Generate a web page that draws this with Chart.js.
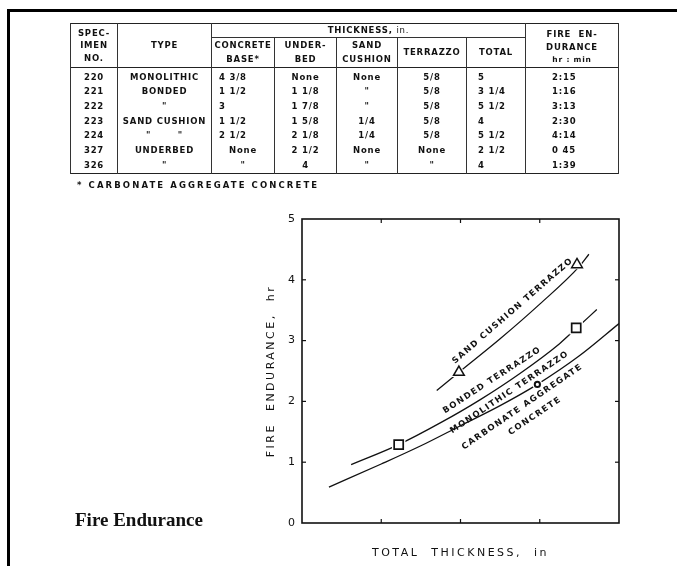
<!DOCTYPE html>
<html><head><meta charset="utf-8">
<script src="https://cdn.jsdelivr.net/npm/chart.js@4.4.1/dist/chart.umd.min.js"></script>
<style>
html,body{margin:0;padding:0;background:#fff;}
body{width:677px;height:566px;overflow:hidden;position:relative;font-family:'DejaVu Sans',sans-serif;color:#111;}
#frame{position:absolute;left:7px;top:9px;width:700px;height:600px;border-top:3px solid #000;border-left:3px solid #000;}
#chart{position:absolute;left:0;top:0;}
#tbl{position:absolute;left:70px;top:23px;width:548px;border-collapse:collapse;table-layout:fixed;font-size:8.5px;letter-spacing:0.8px;border:1.5px solid #222;}
#tbl td,#tbl th{padding:0;border-left:1px solid #333;border-right:1px solid #333;text-align:center;white-space:nowrap;overflow:hidden;font-weight:bold;vertical-align:middle;}
#tbl thead th{line-height:12.5px;}
#tbl thead tr.r1 th{height:11px;}
#tbl thead tr.r2 th{height:29px;border-top:1px solid #333;}
#tbl thead{border-bottom:1.5px solid #222;}
#tbl tbody td{height:14.7px;line-height:14.7px;}
#tbl tbody tr:first-child td{padding-top:2px;}
#tbl tbody tr:last-child td{padding-bottom:1px;}
#tbl td.l{text-align:left;}
.sm{font-size:7.5px;}
#foot{position:absolute;left:77px;top:180px;font-weight:bold;font-size:8.5px;letter-spacing:2.1px;white-space:nowrap;}
#title{position:absolute;left:75px;top:511px;font-family:'Liberation Serif',serif;font-weight:bold;font-size:19px;line-height:18px;white-space:nowrap;}
</style></head>
<body>
<div id="frame"></div>
<canvas id="chart" width="677" height="566"></canvas>
<table id="tbl">
<colgroup><col style="width:47px"><col style="width:94px"><col style="width:63px"><col style="width:62px"><col style="width:61px"><col style="width:69px"><col style="width:59px"><col style="width:93px"></colgroup>
<thead id="thead"></thead>
<tbody id="tbody"></tbody>
</table>
<div id="foot">* CARBONATE AGGREGATE CONCRETE</div>
<div id="title">Fire Endurance</div>
<script>
// ---- table data ----
const specimens = ['220','221','222','223','224','327','326'];
const types = ['MONOLITHIC','BONDED','"','SAND CUSHION','"\u00a0\u00a0\u00a0\u00a0\u00a0\u00a0\u00a0"','UNDERBED','"'];
const concreteBase = ['4 3/8','1 1/2','3','1 1/2','2 1/2','None','"'];
const underbed = ['None','1 1/8','1 7/8','1 5/8','2 1/8','2 1/2','4'];
const sandCushion = ['None','"','"','1/4','1/4','None','"'];
const terrazzo = ['5/8','5/8','5/8','5/8','5/8','None','"'];
const totalThk = ['5','3 1/4','5 1/2','4','5 1/2','2 1/2','4'];
const fireEnd = ['2:15','1:16','3:13','2:30','4:14','0 45','1:39'];

// ---- chart data ----
const xTicks = [2,3,4,5,6];
const yTicks = [0,1,2,3,4,5];
const sandX = [3.70, 4.00, 4.50, 5.00, 5.50, 5.62];
const sandY = [2.18, 2.50, 3.03, 3.60, 4.22, 4.42];
const bondedX = [2.62, 3.22, 3.75, 4.25, 4.75, 5.25, 5.46, 5.72];
const bondedY = [0.96, 1.29, 1.65, 2.03, 2.46, 2.95, 3.20, 3.51];
const monoX = [2.34, 3.00, 3.50, 4.00, 4.50, 4.97, 5.50, 6.00];
const monoY = [0.59, 0.97, 1.27, 1.60, 1.93, 2.28, 2.75, 3.28];
const triX = [3.98, 5.47];
const triY = [2.48, 4.25];
const sqX = [3.22, 5.46];
const sqY = [1.29, 3.21];
const circX = [4.97];
const circY = [2.28];
const curveNames = ['SAND CUSHION TERRAZZO','BONDED TERRAZZO','MONOLITHIC TERRAZZO','CARBONATE AGGREGATE','CONCRETE'];
const xTitle = 'TOTAL  THICKNESS,  in';
const yTitle = 'FIRE  ENDURANCE,  hr';

// label placement (data-space centre + angle in degrees)
const labelPlace = [
  {x:4.66, y:3.49, a:-41},
  {x:4.40, y:2.35, a:-33},
  {x:4.62, y:2.15, a:-34},
  {x:4.78, y:1.91, a:-34.5},
  {x:4.94, y:1.76, a:-34}
];

// ---- build table ----
const thead = document.getElementById('thead');
thead.innerHTML =
 '<tr class="r1"><th rowspan="2">SPEC-<br>IMEN<br>NO.</th><th rowspan="2">TYPE</th>' +
 '<th colspan="5">THICKNESS, <span style="font-weight:normal">in.</span></th>' +
 '<th rowspan="2" style="padding-top:4px">FIRE&nbsp;&nbsp;EN-<br>DURANCE<br><span class="sm">hr : min</span></th></tr>' +
 '<tr class="r2"><th style="line-height:14px">CONCRETE<br>BASE*</th><th style="line-height:14px">UNDER-<br>BED</th>' +
 '<th style="line-height:14px">SAND<br>CUSHION</th><th>TERRAZZO</th><th>TOTAL</th></tr>';
const tbody = document.getElementById('tbody');
const isNum = s => /^[0-9]/.test(s);
for (let i = 0; i < specimens.length; i++) {
  const tr = document.createElement('tr');
  const cells = [
    [specimens[i], ''],
    [types[i], ''],
    [concreteBase[i], isNum(concreteBase[i]) ? 'l' : ''],
    [underbed[i], ''],
    [sandCushion[i], ''],
    [terrazzo[i], ''],
    [totalThk[i], 'l'],
    [fireEnd[i], 'l']
  ];
  const pads = [0,0,7,0,0,0,11,26];
  cells.forEach((c, j) => {
    const td = document.createElement('td');
    td.textContent = c[0];
    if (c[1]) { td.className = c[1]; td.style.paddingLeft = pads[j] + 'px'; }
    tr.appendChild(td);
  });
  tbody.appendChild(tr);
}

// ---- chart ----
const pts = (xs, ys) => xs.map((v, i) => ({x: v, y: ys[i]}));
const ink = '#111';
const mk = (xs, ys, style, r, bw) => ({data: pts(xs, ys), pointStyle: style, pointRadius: r, pointHoverRadius: r,
  pointBorderWidth: bw, pointBorderColor: ink, pointBackgroundColor: '#fff', showLine: false});
const halo = (xs, ys, style, r) => ({data: pts(xs, ys), pointStyle: style, pointRadius: r, pointHoverRadius: r,
  pointBorderWidth: 0, pointBorderColor: '#fff', pointBackgroundColor: '#fff', showLine: false});
const ln = (xs, ys) => ({data: pts(xs, ys), showLine: true, borderColor: ink, borderWidth: 1.3, pointRadius: 0,
  pointHoverRadius: 0, cubicInterpolationMode: 'monotone', fill: false});

const deco = {
  id: 'deco',
  afterDraw(chart) {
    const {ctx, chartArea: a, scales: {x, y}} = chart;
    ctx.save();
    ctx.strokeStyle = ink;
    ctx.lineWidth = 1.6;
    ctx.strokeRect(a.left, a.top, a.right - a.left, a.bottom - a.top);
    ctx.lineWidth = 1.2;
    const seg = (x1, y1, x2, y2) => { ctx.beginPath(); ctx.moveTo(x1, y1); ctx.lineTo(x2, y2); ctx.stroke(); };
    xTicks.slice(1, -1).forEach(v => { const p = x.getPixelForValue(v); seg(p, a.bottom, p, a.bottom - 4); seg(p, a.top, p, a.top + 4); });
    yTicks.slice(1, -1).forEach(v => { const p = y.getPixelForValue(v); seg(a.left, p, a.left + 4, p); seg(a.right, p, a.right - 4, p); });
    ctx.fillStyle = ink;
    ctx.textAlign = 'center';
    ctx.textBaseline = 'middle';
    ctx.font = 'bold 8.5px "DejaVu Sans"';
    ctx.letterSpacing = '1.4px';
    curveNames.forEach((t, i) => {
      const L = labelPlace[i];
      ctx.save();
      ctx.translate(x.getPixelForValue(L.x), y.getPixelForValue(L.y));
      ctx.rotate(L.a * Math.PI / 180);
      ctx.fillText(t, 0, 0);
      ctx.restore();
    });
    ctx.font = '11px "DejaVu Sans"';
    ctx.letterSpacing = '2.5px';
    ctx.fillText(xTitle, (a.left + a.right) / 2, a.bottom + 30);
    ctx.save();
    ctx.translate(a.left - 31, (a.top + a.bottom) / 2);
    ctx.rotate(-Math.PI / 2);
    ctx.fillText(yTitle, 0, 0);
    ctx.restore();
    ctx.restore();
  }
};

new Chart(document.getElementById('chart'), {
  type: 'scatter',
  data: {datasets: [
    mk(circX, circY, 'circle', 2.6, 2),
    mk(sqX, sqY, 'rect', 6.4, 1.7),
    mk(triX, triY, 'triangle', 6.2, 1.5),
    halo(circX, circY, 'circle', 5),
    halo(sqX, sqY, 'rect', 9.5),
    halo(triX, triY, 'triangle', 9.5),
    ln(sandX, sandY),
    ln(bondedX, bondedY),
    ln(monoX, monoY)
  ]},
  options: {
    responsive: false, animation: false, devicePixelRatio: 1,
    layout: {padding: {left: 0, top: 219, right: 58, bottom: 43}},
    plugins: {legend: {display: false}, tooltip: {enabled: false}},
    events: [],
    scales: {
      x: {type: 'linear', min: 2, max: 6,
        afterBuildTicks: s => { s.ticks = xTicks.map(v => ({value: v})); },
        afterFit: s => { s.height = 0; },
        ticks: {color: ink, font: {family: 'DejaVu Sans', size: 11}, padding: 5, maxRotation: 0, autoSkip: false},
        grid: {display: false, drawTicks: false}, border: {display: false}},
      y: {type: 'linear', min: 0, max: 5,
        afterBuildTicks: s => { s.ticks = yTicks.map(v => ({value: v})); },
        afterFit: s => { s.width = 302; },
        ticks: {color: ink, font: {family: 'DejaVu Sans', size: 11}, padding: 7, autoSkip: false},
        grid: {display: false, drawTicks: false}, border: {display: false}}
    }
  },
  plugins: [deco]
});
</script>
</body></html>
